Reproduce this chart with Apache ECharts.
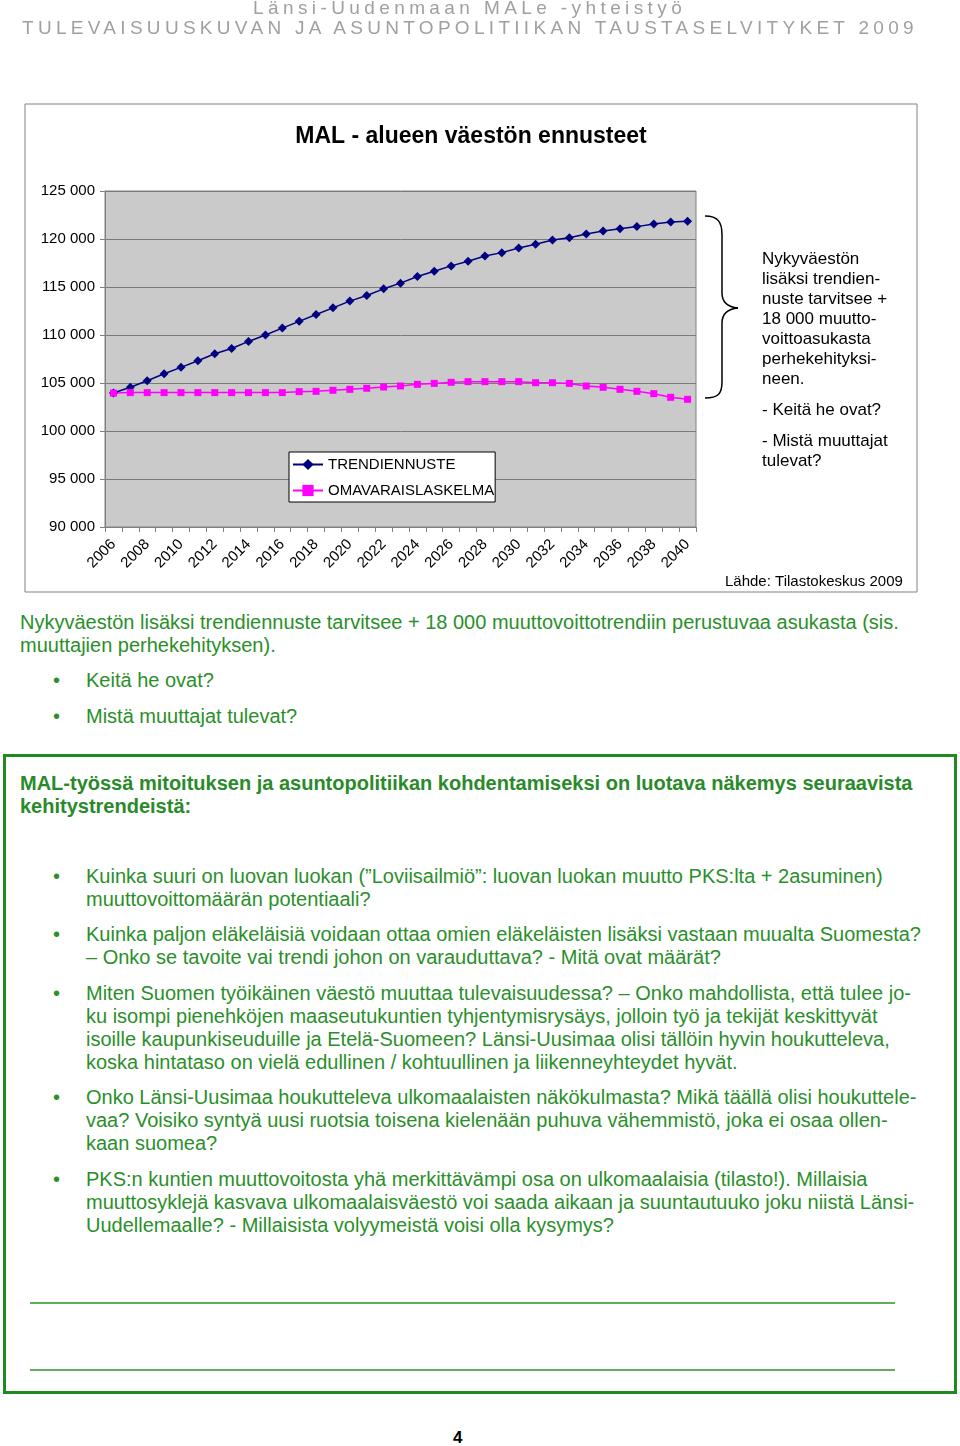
<!DOCTYPE html>
<html>
<head>
<meta charset="utf-8">
<script src="https://cdn.jsdelivr.net/npm/echarts@6/dist/echarts.min.js"></script>
<style>
  html, body { margin: 0; padding: 0; background: #fff; }
  body { width: 960px; height: 1446px; position: relative; overflow: hidden; font-family: "Liberation Sans", Arial, sans-serif; }
  #chart { position: absolute; left: 0; top: 0; width: 960px; height: 600px; }
  .t { position: absolute; white-space: nowrap; line-height: 24px; height: 24px; }
  .g { color: #2a8f2a; font-size: 20px; }
  .gb { color: #2a8a2a; font-size: 20px; font-weight: bold; }
  .hdr { color: #a0a0a0; font-size: 19px; z-index: 2; }
  #box { position: absolute; left: 3px; top: 754px; width: 948px; height: 634px; border: 3px solid #1f8a1f; }
  .rule { position: absolute; left: 30px; width: 865px; height: 2px; background: #5fae5f; }
</style>
</head>
<body>
<div id="chart"></div>
<div id="box"></div>
<div class="rule" style="top:1302px"></div>
<div class="rule" style="top:1369px"></div>
<div id="txt"></div>
<script>
// ---- data ----
const years = ['2006','2007','2008','2009','2010','2011','2012','2013','2014','2015','2016','2017','2018','2019','2020','2021','2022','2023','2024','2025','2026','2027','2028','2029','2030','2031','2032','2033','2034','2035','2036','2037','2038','2039','2040'];
const trendiennuste = [103950,104550,105240,105970,106630,107320,108050,108600,109330,110000,110720,111420,112140,112830,113530,114120,114810,115400,116100,116650,117200,117680,118230,118580,119070,119460,119900,120140,120530,120840,121080,121290,121570,121780,121850];
const omavaraislaskelma = [103950,104000,104000,104000,104000,104000,104000,104000,104000,104000,104000,104100,104130,104240,104340,104450,104580,104690,104860,104960,105070,105140,105140,105140,105140,105030,105030,104960,104690,104550,104340,104130,103890,103510,103300];
const seriesNames = ['TRENDIENNUSTE', 'OMAVARAISLASKELMA'];
const yTicks = { min: 90000, max: 125000, interval: 5000 };
const chartTitle = 'MAL - alueen väestön ennusteet';
const sideLines = ['Nykyväestön','lisäksi trendien-','nuste tarvitsee +','18 000 muutto-','voittoasukasta','perhekehityksi-','neen.'];
const sideQuestions = ['- Keitä he ovat?','- Mistä muuttajat','tulevat?'];
const sourceText = 'Lähde: Tilastokeskus 2009';

// ---- page text ----
const texts = [
  ['hdr', 'Länsi-Uudenmaan MALe -yhteistyö', 253, 8, 4.4],
  ['hdr', 'TULEVAISUUSKUVAN JA ASUNTOPOLITIIKAN TAUSTASELVITYKET 2009', 22, 28, 4.3],
  ['g', 'Nykyväestön lisäksi trendiennuste tarvitsee + 18 000 muuttovoittotrendiin perustuvaa asukasta (sis.', 20, 622],
  ['g', 'muuttajien perhekehityksen).', 20, 645],
  ['g', '•', 53, 680], ['g', 'Keitä he ovat?', 86, 680],
  ['g', '•', 53, 716], ['g', 'Mistä muuttajat tulevat?', 86, 716],
  ['gb', 'MAL-työssä mitoituksen ja asuntopolitiikan kohdentamiseksi on luotava näkemys seuraavista', 20, 783],
  ['gb', 'kehitystrendeistä:', 20, 806],
  ['g', '•', 53, 876],
  ['g', 'Kuinka suuri on luovan luokan (”Loviisailmiö”: luovan luokan muutto PKS:lta + 2asuminen)', 86, 876],
  ['g', 'muuttovoittomäärän potentiaali?', 86, 899],
  ['g', '•', 53, 934],
  ['g', 'Kuinka paljon eläkeläisiä voidaan ottaa omien eläkeläisten lisäksi vastaan muualta Suomesta?', 86, 934],
  ['g', '– Onko se tavoite vai trendi johon on varauduttava? - Mitä ovat määrät?', 86, 957],
  ['g', '•', 53, 993],
  ['g', 'Miten Suomen työikäinen väestö muuttaa tulevaisuudessa? – Onko mahdollista, että tulee jo-', 86, 993],
  ['g', 'ku isompi pienehköjen maaseutukuntien tyhjentymisrysäys, jolloin työ ja tekijät keskittyvät', 86, 1016],
  ['g', 'isoille kaupunkiseuduille ja Etelä-Suomeen? Länsi-Uusimaa olisi tällöin hyvin houkutteleva,', 86, 1039],
  ['g', 'koska hintataso on vielä edullinen / kohtuullinen ja liikenneyhteydet hyvät.', 86, 1062],
  ['g', '•', 53, 1097],
  ['g', 'Onko Länsi-Uusimaa houkutteleva ulkomaalaisten näkökulmasta? Mikä täällä olisi houkuttele-', 86, 1097],
  ['g', 'vaa? Voisiko syntyä uusi ruotsia toisena kielenään puhuva vähemmistö, joka ei osaa ollen-', 86, 1120],
  ['g', 'kaan suomea?', 86, 1143],
  ['g', '•', 53, 1179],
  ['g', 'PKS:n kuntien muuttovoitosta yhä merkittävämpi osa on ulkomaalaisia (tilasto!). Millaisia', 86, 1179],
  ['g', 'muuttosyklejä kasvava ulkomaalaisväestö voi saada aikaan ja suuntautuuko joku niistä Länsi-', 86, 1202],
  ['g', 'Uudellemaalle? - Millaisista volyymeistä voisi olla kysymys?', 86, 1225]
];
const txt = document.getElementById('txt');
texts.forEach(([cls, s, x, y, ls]) => {
  const d = document.createElement('div');
  d.className = 't ' + cls;
  d.textContent = s;
  d.style.left = x + 'px';
  d.style.top = (y - 12) + 'px';
  if (ls) d.style.letterSpacing = ls + 'px';
  txt.appendChild(d);
});
const pn = document.createElement('div');
pn.className = 't';
pn.textContent = '4';
pn.style.cssText += 'left:453px;top:1426px;font-weight:bold;font-size:17px;color:#000;';
txt.appendChild(pn);

// ---- chart ----
const fmt = v => String(v).replace(/\B(?=(\d{3})+(?!\d))/g, ' ');
const chart = echarts.init(document.getElementById('chart'), null, { renderer: 'canvas' });
const font = '"Liberation Sans", Arial, sans-serif';
const braceStyle = { fill: 'none', stroke: '#000', lineWidth: 1.5 };
chart.setOption({
  animation: false,
  textStyle: { fontFamily: font },
  grid: { left: 105, top: 191, width: 591, height: 336, show: true, backgroundColor: '#cacaca', borderColor: '#808080', borderWidth: 1 },
  legend: {
    left: 289, top: 452, orient: 'vertical',
    data: seriesNames,
    backgroundColor: '#fff', borderColor: '#000', borderWidth: 1,
    padding: [5, 1, 4, 3], itemGap: 11, itemWidth: 30, itemHeight: 14,
    textStyle: { fontSize: 15, color: '#000', fontFamily: font }
  },
  xAxis: {
    type: 'category', data: years, boundaryGap: true,
    axisLine: { lineStyle: { color: '#808080' } },
    axisTick: { show: true, interval: 0, length: 5, lineStyle: { color: '#808080' } },
    axisLabel: { interval: 1, rotate: 45, fontSize: 15, color: '#000', margin: 15, fontFamily: font },
    splitLine: { show: false }
  },
  yAxis: {
    type: 'value', min: yTicks.min, max: yTicks.max, interval: yTicks.interval,
    axisLine: { show: true, lineStyle: { color: '#808080' } },
    axisTick: { show: true, length: 5, lineStyle: { color: '#808080' } },
    axisLabel: { formatter: fmt, fontSize: 15, color: '#000', margin: 10, fontFamily: font },
    splitLine: { show: true, lineStyle: { color: '#7a7a7a', width: 1 } }
  },
  series: [
    { name: seriesNames[0], type: 'line', data: trendiennuste, symbol: 'diamond', symbolSize: 9,
      itemStyle: { color: '#000080' }, lineStyle: { color: '#000080', width: 1.5 } },
    { name: seriesNames[1], type: 'line', data: omavaraislaskelma, symbol: 'rect', symbolSize: 7,
      itemStyle: { color: '#ff00ff' }, lineStyle: { color: '#ff00ff', width: 1.5 } }
  ],
  graphic: [
    { type: 'rect', shape: { x: 25, y: 104, width: 892, height: 488 }, style: { fill: 'none', stroke: '#808080', lineWidth: 1 }, z: -1 },
    { type: 'text', x: 471, y: 137, style: { text: chartTitle, fontSize: 23, fontWeight: 'bold', fill: '#000', align: 'center', verticalAlign: 'middle', fontFamily: font } },
    { type: 'bezierCurve', shape: { x1: 705, y1: 216, cpx1: 718, cpy1: 216, cpx2: 722, cpy2: 222, x2: 722, y2: 235 }, style: braceStyle },
    { type: 'line', shape: { x1: 722, y1: 235, x2: 722, y2: 293 }, style: braceStyle },
    { type: 'bezierCurve', shape: { x1: 722, y1: 293, cpx1: 722, cpy1: 303, cpx2: 728, cpy2: 307, x2: 738, y2: 308 }, style: braceStyle },
    { type: 'bezierCurve', shape: { x1: 738, y1: 308, cpx1: 728, cpy1: 309, cpx2: 722, cpy2: 313, x2: 722, y2: 323 }, style: braceStyle },
    { type: 'line', shape: { x1: 722, y1: 323, x2: 722, y2: 382 }, style: braceStyle },
    { type: 'bezierCurve', shape: { x1: 722, y1: 382, cpx1: 722, cpy1: 394, cpx2: 718, cpy2: 398, x2: 705, y2: 398 }, style: braceStyle },
    { type: 'text', x: 762, y: 249, style: { text: sideLines.join('\n'), fontSize: 17, lineHeight: 20, fill: '#000', fontFamily: font } },
    { type: 'text', x: 762, y: 400, style: { text: sideQuestions[0], fontSize: 17, lineHeight: 20, fill: '#000', fontFamily: font } },
    { type: 'text', x: 762, y: 431, style: { text: sideQuestions.slice(1).join('\n'), fontSize: 17, lineHeight: 20, fill: '#000', fontFamily: font } },
    { type: 'text', x: 725, y: 574, style: { text: sourceText, fontSize: 15, fill: '#000', fontFamily: font } }
  ]
});
</script>
</body>
</html>
